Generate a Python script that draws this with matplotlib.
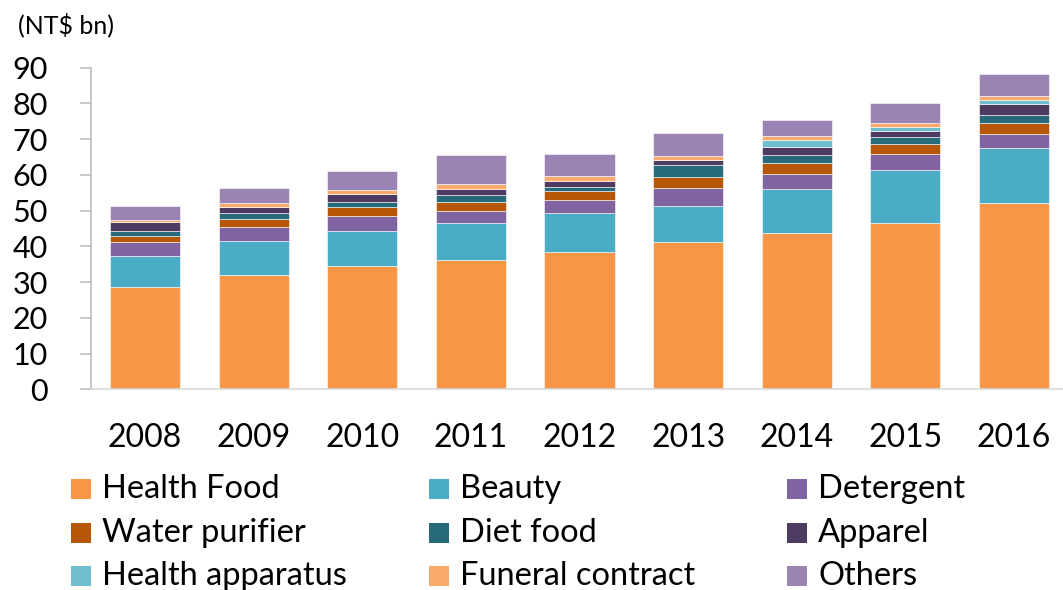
import matplotlib.pyplot as plt
from matplotlib.patches import Rectangle
import numpy as np

plt.rcParams['font.family'] = ['Lato', 'DejaVu Sans']

years = ['2008', '2009', '2010', '2011', '2012', '2013', '2014', '2015', '2016']

health_food = [28.5, 32.0, 34.6, 36.3, 38.5, 41.1, 43.8, 46.5, 52.1]
beauty = [8.7, 9.4, 9.7, 10.2, 10.9, 10.2, 12.2, 14.8, 15.5]
detergent = [4.1, 3.9, 4.1, 3.3, 3.6, 5.0, 4.2, 4.5, 3.9]
water_purifier = [1.7, 2.4, 2.5, 2.5, 2.4, 3.0, 3.1, 2.9, 3.0]
diet_food = [1.2, 1.6, 1.4, 2.1, 1.3, 3.4, 2.3, 1.8, 2.3]
apparel = [2.5, 1.8, 2.4, 1.7, 1.6, 1.5, 2.3, 1.9, 3.0]
health_apparatus = [0, 0, 0, 0, 0, 0, 1.8, 0.9, 1.3]
funeral_contract = [0.8, 1.0, 1.1, 1.4, 1.3, 1.1, 1.3, 1.2, 1.0]
others = [3.9, 4.1, 5.2, 8.0, 6.3, 6.5, 4.3, 5.7, 6.1]

labels = ['Health Food', 'Beauty', 'Detergent', 'Water purifier', 'Diet food',
          'Apparel', 'Health apparatus', 'Funeral contract', 'Others']
series = [health_food, beauty, detergent, water_purifier, diet_food,
          apparel, health_apparatus, funeral_contract, others]
colors = ['#F79646', '#4BACC6', '#8064A2', '#B65708', '#276A7C',
          '#4D3B62', '#72BED1', '#F9AB6B', '#9B83B4']

W, H = 1063, 590
fig = plt.figure(figsize=(W / 100, H / 100), dpi=100)
x0, x1 = 90.7, 1068.3
y0, y1 = 389.3, 67.7
ax = fig.add_axes([x0 / W, (H - y0) / H, (x1 - x0) / W, (y0 - y1) / H])

x = np.arange(len(years))
bottom = np.zeros(len(years))
for vals, lab, col in zip(series, labels, colors):
    vals = np.array(vals)
    ax.bar(x, vals, 0.645, bottom=bottom, color=col, label=lab,
           edgecolor='white', linewidth=0.4)
    bottom += vals

ax.set_xlim(-0.5, 8.5)
ax.set_ylim(0, 90)
ax.set_yticks(range(0, 91, 10))
ax.set_xticks(x)
ax.set_xticklabels(years)

for s in ['top', 'right']:
    ax.spines[s].set_visible(False)
ax.spines['left'].set_color('#BFBFBF')
ax.spines['left'].set_linewidth(1.2)
ax.spines['bottom'].set_color('#D9D9D9')
ax.spines['bottom'].set_linewidth(1.2)

ax.tick_params(axis='y', length=8, width=1.2, color='#BFBFBF', pad=23,
               labelsize=22, labelcolor='black')
ax.tick_params(axis='x', length=0, pad=24, labelsize=23, labelcolor='black')

fig.text(18 / W, 1 - 25 / H, '(NT$ bn)', fontsize=18, va='center', ha='left')

# legend laid out in a 3-column grid
col_x = [71, 429, 787]
row_y = [489, 532.5, 576]
sq = 20
for i, (lab, col) in enumerate(zip(labels, colors)):
    r, c = divmod(i, 3)
    cx, cy = col_x[c], row_y[r]
    fig.add_artist(Rectangle((cx / W, 1 - (cy + sq / 2) / H), sq / W, sq / H,
                             transform=fig.transFigure, facecolor=col,
                             edgecolor='none'))
    fig.text((cx + 31) / W, 1 - cy / H, lab, fontsize=23.5, va='center', ha='left')

fig.savefig('out.png', dpi=100)
